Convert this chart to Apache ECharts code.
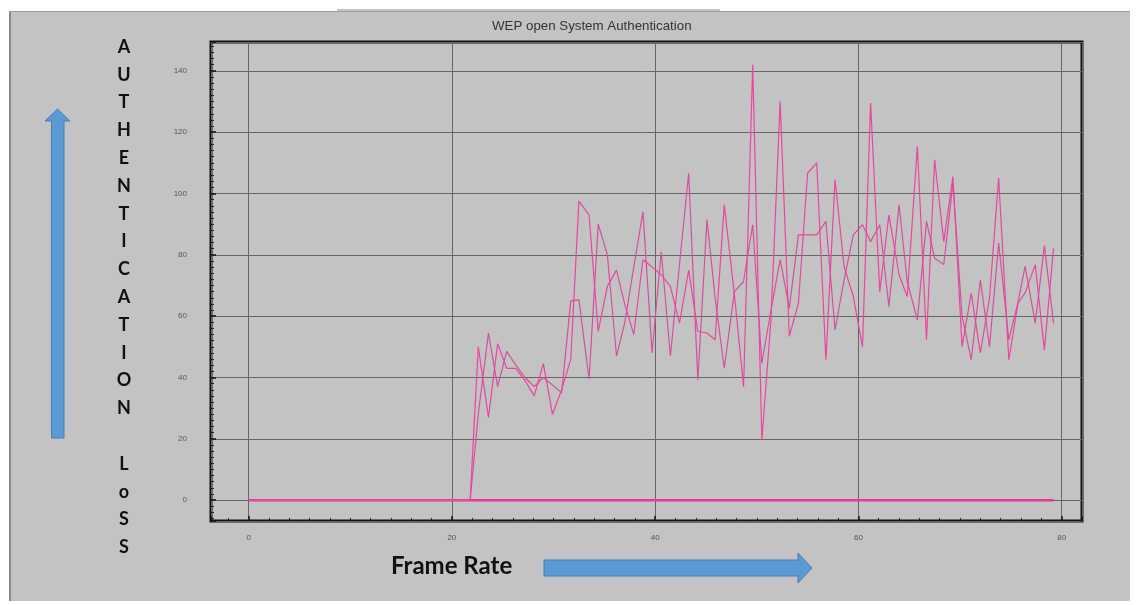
<!DOCTYPE html>
<html>
<head>
<meta charset="utf-8">
<title>WEP open System Authentication</title>
<script src="https://cdn.jsdelivr.net/npm/echarts@6/dist/echarts.min.js"></script>
<style>
  html, body { margin: 0; padding: 0; background: #ffffff; }
  .wrap { position: relative; width: 1136px; height: 605px; overflow: hidden; }
  .panel {
    position: absolute; left: 9px; top: 11px; width: 1119px; height: 589px;
    background: #c3c3c3; border-left: 2px solid #8a8a8a; border-top: 1px solid #9a9a9a;
  }
  #main { position: absolute; left: 0; top: 0; width: 1136px; height: 605px; }
</style>
</head>
<body>
<div class="wrap">
  <div class="panel"></div>
  <div id="main"></div>
</div>
<script>
  // frame positions (x), shared by both loss traces
  const frameX = [0, 21.8, 22.6, 23.6, 24.5, 25.4, 26.3, 27.2, 28.1, 29.0, 29.9,
    30.8, 31.7, 32.5, 33.5, 34.4, 35.3, 36.2, 37.0, 37.9, 38.8,
    39.7, 40.6, 41.5, 42.4, 43.3, 44.2, 45.1, 45.9, 46.8, 47.8,
    48.7, 49.6, 50.5, 51.4, 52.3, 53.2, 54.1, 55.0, 55.9, 56.8,
    57.7, 58.6, 59.5, 60.4, 61.2, 62.1, 63.0, 64.0, 64.8, 65.8,
    66.7, 67.5, 68.4, 69.3, 70.2, 71.1, 72.0, 72.9, 73.8, 74.8,
    75.7, 76.4, 77.4, 78.3, 79.2];

  // authentication loss, trace 1 (the spikier one)
  const lossA = [0, 0, 50, 27, 51, 43, 43, 39, 34, 44.5, 28,
    36, 46, 97.5, 93, 55, 69.7, 75, 64, 54, 78.4,
    76, 73.5, 69.7, 57.7, 75, 55, 54.5, 52.3, 96.3, 67,
    37, 142, 19.7, 59, 130, 53.4, 64.2, 106.6, 110, 45.8,
    104.5, 76, 66.4, 50, 129.5, 68, 93, 73.5, 66.4, 115.3,
    52.3, 111, 84.3, 105.5, 50, 67.5, 48, 66, 105, 45.8,
    64.2, 67.6, 76.8, 49, 82.2];

  // authentication loss, trace 2
  const lossB = [0, 0, 28, 54.5, 37, 48.5, 44, 40, 37, 40, 37.5,
    35, 65, 65.3, 39.5, 90, 80, 47, 57.7, 76, 94,
    48, 81, 47, 77, 106.6, 39.2, 91.4, 66, 43, 68,
    71.3, 89.8, 44.7, 62, 78.4, 62.6, 86.5, 86.5, 86.5, 90.9,
    55.5, 72, 86.5, 89.8, 84.3, 89.8, 63.1, 96.3, 71.3, 58.8,
    90.9, 78.9, 76.8, 103.4, 60, 45.8, 71.8, 50, 83.8, 52.3,
    64.5, 76.2, 57.7, 83, 57.7];

  // flat trace sitting on zero across the whole run
  const baseX = [0, 79.2];
  const baseY = [0, 0];

  const yLetters = ['A', 'U', 'T', 'H', 'E', 'N', 'T', 'I', 'C', 'A', 'T', 'I', 'O', 'N', '', 'L', 'o', 'S', 'S'];

  function pairs(xs, ys) {
    return xs.map(function (x, i) { return [x, ys[i]]; });
  }

  const tickFont = '"Liberation Sans Narrow", "Liberation Sans", sans-serif';
  const arrowBlue = '#5b9bd5';

  const myChart = echarts.init(document.getElementById('main'));
  const option = {
    animation: false,
    backgroundColor: 'transparent',
    grid: {
      left: 211, top: 42, width: 871, height: 479,
      show: true, borderColor: '#111', borderWidth: 3, backgroundColor: 'transparent'
    },
    xAxis: {
      type: 'value',
      min: -3.7, max: 82,
      splitNumber: 5, minInterval: 20, maxInterval: 20,
      axisLine: { show: false, onZero: false },
      axisTick: { show: true, inside: true, length: 5, lineStyle: { color: '#111', width: 1.5 } },
      minorTick: { show: true, splitNumber: 10, length: 3, lineStyle: { color: '#222' } },
      axisLabel: { showMinLabel: false, showMaxLabel: false, fontSize: 8, color: '#555', margin: 13, fontFamily: tickFont },
      splitLine: { show: true, lineStyle: { color: '#666', width: 1 } }
    },
    yAxis: {
      type: 'value',
      min: -6.8, max: 149.4,
      splitNumber: 8, minInterval: 20, maxInterval: 20,
      axisLine: { show: false, onZero: false },
      axisTick: { show: true, inside: true, length: 5, lineStyle: { color: '#111', width: 1.5 } },
      minorTick: { show: true, splitNumber: 10, length: 3, lineStyle: { color: '#222' } },
      axisLabel: { showMinLabel: false, showMaxLabel: false, fontSize: 8, color: '#555', margin: 24, fontFamily: tickFont },
      splitLine: { show: true, lineStyle: { color: '#666', width: 1 } }
    },
    series: [
      {
        name: 'base',
        type: 'line',
        data: pairs(baseX, baseY),
        showSymbol: false,
        lineStyle: { color: '#e03a9c', width: 2.5 },
        z: 3
      },
      {
        name: 'trace 2',
        type: 'line',
        data: pairs(frameX, lossB),
        showSymbol: false,
        lineStyle: { color: '#d4509e', width: 1.2 }
      },
      {
        name: 'trace 1',
        type: 'line',
        data: pairs(frameX, lossA),
        showSymbol: false,
        lineStyle: { color: '#ea45a0', width: 1.2 }
      }
    ],
    graphic: [
      {
        type: 'text', left: 492, top: 20,
        style: { text: 'WEP open System Authentication', fontSize: 13.3, fill: '#333', fontFamily: tickFont }
      },
      {
        type: 'line', shape: { x1: 337, y1: 10, x2: 720, y2: 10 },
        style: { stroke: '#888', lineWidth: 1 }
      },
      {
        type: 'text', x: 124, y: 33,
        style: {
          text: yLetters.join('\n'), fontSize: 18, fontWeight: 'bold', fill: '#111',
          fontFamily: 'Lato, "Open Sans", sans-serif', align: 'center', lineHeight: 27.8
        }
      },
      {
        type: 'polygon',
        shape: { points: [[57.5, 109], [70, 121], [64, 121], [64, 438], [51.5, 438], [51.5, 121], [45, 121]] },
        style: { fill: arrowBlue, stroke: '#4a7fb5', lineWidth: 1 }
      },
      {
        type: 'text', x: 391, y: 554,
        style: { text: 'Frame Rate', fontSize: 24, fontWeight: 'bold', fill: '#111', fontFamily: 'Lato, "Open Sans", sans-serif' }
      },
      {
        type: 'polygon',
        shape: { points: [[544, 560], [798, 560], [798, 553], [812, 568], [798, 583], [798, 576], [544, 576]] },
        style: { fill: arrowBlue, stroke: '#4a7fb5', lineWidth: 1 }
      }
    ]
  };
  myChart.setOption(option);
</script>
</body>
</html>
